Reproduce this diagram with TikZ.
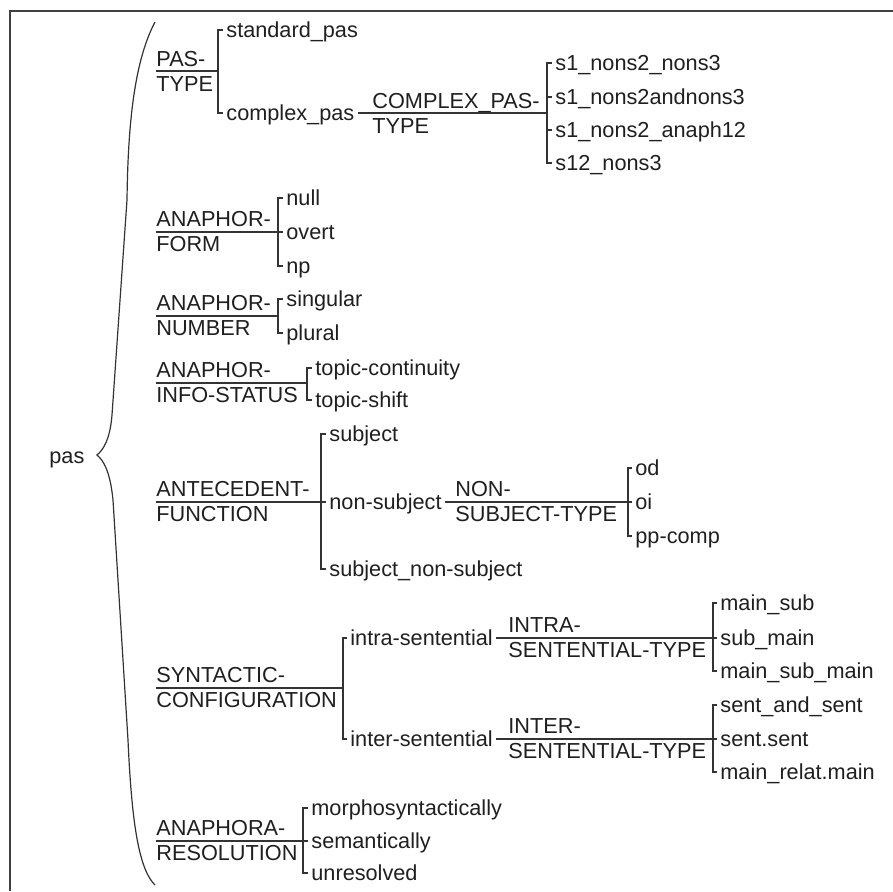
\documentclass[tikz,border=0pt]{standalone}
\usepackage{fontspec}
\setmainfont{Liberation Sans}
\usepackage{tikz}
\usetikzlibrary{positioning}
\usepackage{xcolor}

\begin{document}
\begin{tikzpicture}[x=0.5pt, y=-0.5pt,
    every node/.style={text=black!88, font=\fontsize{10.85pt}{12.5pt}\selectfont},
    category/.style={anchor=west, align=left, inner sep=0pt},
    value/.style={anchor=west, inner sep=1.5pt, text height=0.7em, text depth=0pt},
    tree line/.style={draw=black!80, line width=0.6pt}]
\useasboundingbox (0,0) rectangle (893,891);

% frame
\draw[black!75, line width=1.2pt] (893,11) -- (10,11) -- (10,891);

\node[anchor=base west, inner sep=0pt] (pas) at (49,463) {pas};
\draw[tree line] (155,22) .. controls (135,60) and (128,120) .. (127,200) -- (112,415)
    .. controls (110,440) and (103,450) .. (97,455)
    .. controls (103,460) and (110,470) .. (113,500) -- (128,740)
    .. controls (132,830) and (140,870) .. (155,885);

% pas type
\node[category] (pasType) at (156,71) {PAS-\\TYPE};
\coordinate (pasTypeJ) at (218,71);
\node[value] (standardPas) at (223,30) {standard\_pas};
\node[value] (complexPas) at (223,113) {complex\_pas};
\draw[tree line] (pasType.west) -- (pasTypeJ);
\draw[tree line] (standardPas.west) -| (pasTypeJ) |- (complexPas.west);

\node[category] (complexPasType) at (372,113) {COMPLEX\_PAS-\\TYPE};
\coordinate (complexPasTypeJ) at (547,113);
\node[value] (sNonsNons) at (552,63) {s1\_nons2\_nons3};
\node[value] (sNonsAnd) at (552,97) {s1\_nons2andnons3};
\node[value] (sNonsAnaph) at (552,130) {s1\_nons2\_anaph12};
\node[value] (sTwelveNons) at (552,163) {s12\_nons3};
\draw[tree line] (complexPas.east) -- (complexPasTypeJ);
\draw[tree line] (sNonsNons.west) -| (complexPasTypeJ) |- (sTwelveNons.west);
\draw[tree line] (complexPasTypeJ |- sNonsAnd.west) -- (sNonsAnd.west);
\draw[tree line] (complexPasTypeJ |- sNonsAnaph.west) -- (sNonsAnaph.west);

% anaphor form
\node[category] (anaphorForm) at (156,232) {ANAPHOR-\\FORM};
\coordinate (anaphorFormJ) at (278,232);
\node[value] (null) at (283,198) {null};
\node[value] (overt) at (283,232) {overt};
\node[value] (np) at (283,266) {np};
\draw[tree line] (anaphorForm.west) -- (anaphorFormJ);
\draw[tree line] (null.west) -| (anaphorFormJ) |- (np.west);
\draw[tree line] (anaphorFormJ |- overt.west) -- (overt.west);

% anaphor number
\node[category] (anaphorNumber) at (156,316) {ANAPHOR-\\NUMBER};
\coordinate (anaphorNumberJ) at (278,316);
\node[value] (singular) at (283,299) {singular};
\node[value] (plural) at (283,333) {plural};
\draw[tree line] (anaphorNumber.west) -- (anaphorNumberJ);
\draw[tree line] (singular.west) -| (anaphorNumberJ) |- (plural.west);

% anaphor info status
\node[category] (infoStatus) at (156,383) {ANAPHOR-\\INFO-STATUS};
\coordinate (infoStatusJ) at (307,383);
\node[value] (topicCont) at (312,368) {topic-continuity};
\node[value] (topicShift) at (312,400) {topic-shift};
\draw[tree line] (infoStatus.west) -- (infoStatusJ);
\draw[tree line] (topicCont.west) -| (infoStatusJ) |- (topicShift.west);

% antecedent function
\node[category] (antecedent) at (156,502) {ANTECEDENT-\\FUNCTION};
\coordinate (antecedentJ) at (321,502);
\node[value] (subject) at (326,434) {subject};
\node[value] (nonSubject) at (326,502) {non-subject};
\node[value] (subjNonSubj) at (326,569) {subject\_non-subject};
\draw[tree line] (antecedent.west) -- (antecedentJ);
\draw[tree line] (subject.west) -| (antecedentJ) |- (subjNonSubj.west);
\draw[tree line] (antecedentJ |- nonSubject.west) -- (nonSubject.west);

\node[category] (nonSubjType) at (455,502) {NON-\\SUBJECT-TYPE};
\coordinate (nonSubjTypeJ) at (628,502);
\node[value] (od) at (632,468) {od};
\node[value] (oi) at (632,502) {oi};
\node[value] (ppComp) at (632,536) {pp-comp};
\draw[tree line] (nonSubject.east) -- (nonSubjTypeJ);
\draw[tree line] (od.west) -| (nonSubjTypeJ) |- (ppComp.west);
\draw[tree line] (nonSubjTypeJ |- oi.west) -- (oi.west);

% syntactic configuration
\node[category] (syntactic) at (156,688) {SYNTACTIC-\\CONFIGURATION};
\coordinate (syntacticJ) at (343,688);
\node[value] (intra) at (347,638) {intra-sentential};
\node[value] (inter) at (347,739) {inter-sentential};
\draw[tree line] (syntactic.west) -- (syntacticJ);
\draw[tree line] (intra.west) -| (syntacticJ) |- (inter.west);

\node[category] (intraType) at (508,638) {INTRA-\\SENTENTIAL-TYPE};
\coordinate (intraTypeJ) at (713,638);
\node[value] (mainSub) at (717,603) {main\_sub};
\node[value] (subMain) at (717,638) {sub\_main};
\node[value] (mainSubMain) at (717,671) {main\_sub\_main};
\draw[tree line] (intra.east) -- (intraTypeJ);
\draw[tree line] (mainSub.west) -| (intraTypeJ) |- (mainSubMain.west);
\draw[tree line] (intraTypeJ |- subMain.west) -- (subMain.west);

\node[category] (interType) at (508,739) {INTER-\\SENTENTIAL-TYPE};
\coordinate (interTypeJ) at (713,739);
\node[value] (sentAndSent) at (717,705) {sent\_and\_sent};
\node[value] (sentSent) at (717,739) {sent.sent};
\node[value] (mainRelat) at (717,772) {main\_relat.main};
\draw[tree line] (inter.east) -- (interTypeJ);
\draw[tree line] (sentAndSent.west) -| (interTypeJ) |- (mainRelat.west);
\draw[tree line] (interTypeJ |- sentSent.west) -- (sentSent.west);

% anaphora resolution
\node[category] (resolution) at (156,841) {ANAPHORA-\\RESOLUTION};
\coordinate (resolutionJ) at (303,841);
\node[value] (morpho) at (308,808) {morphosyntactically};
\node[value] (semantic) at (308,841) {semantically};
\node[value] (unresolved) at (308,873) {unresolved};
\draw[tree line] (resolution.west) -- (resolutionJ);
\draw[tree line] (morpho.west) -| (resolutionJ) |- (unresolved.west);
\draw[tree line] (resolutionJ |- semantic.west) -- (semantic.west);
\end{tikzpicture}
\end{document}
